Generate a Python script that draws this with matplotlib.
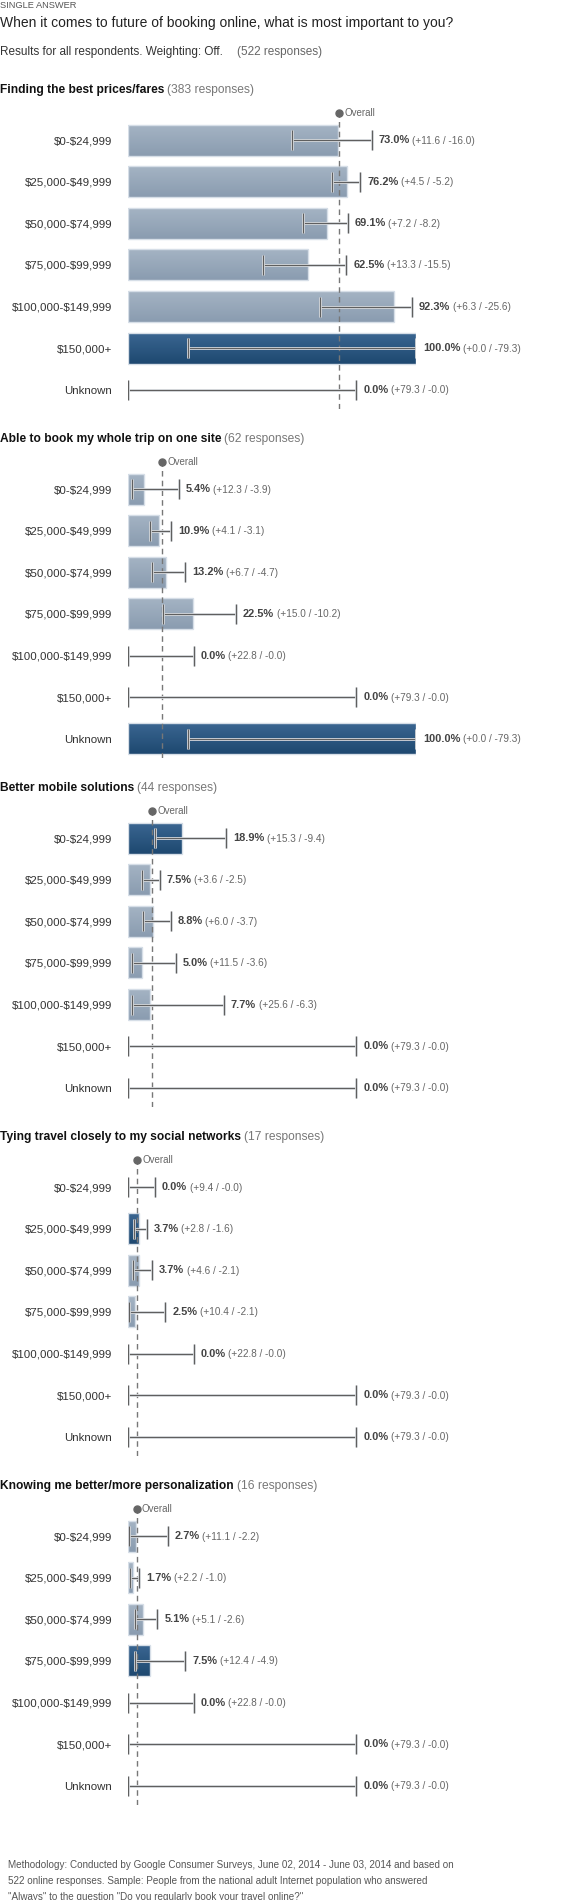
import numpy as np
import matplotlib
matplotlib.use("Agg")
import matplotlib.pyplot as plt
import matplotlib.patheffects as pe
from matplotlib.colors import LinearSegmentedColormap

plt.rcParams["font.family"] = ["Liberation Sans", "DejaVu Sans"]

W, H = 571, 1900
TOTAL = 522

categories = ["$0-$24,999", "$25,000-$49,999", "$50,000-$74,999", "$75,000-$99,999",
              "$100,000-$149,999", "$150,000+", "Unknown"]

titles = ["Finding the best prices/fares",
          "Able to book my whole trip on one site",
          "Better mobile solutions",
          "Tying travel closely to my social networks",
          "Knowing me better/more personalization"]
responses = [383, 62, 44, 17, 16]

values = [
    [73.0, 76.2, 69.1, 62.5, 92.3, 100.0, 0.0],
    [5.4, 10.9, 13.2, 22.5, 0.0, 0.0, 100.0],
    [18.9, 7.5, 8.8, 5.0, 7.7, 0.0, 0.0],
    [0.0, 3.7, 3.7, 2.5, 0.0, 0.0, 0.0],
    [2.7, 1.7, 5.1, 7.5, 0.0, 0.0, 0.0],
]
plus = [
    [11.6, 4.5, 7.2, 13.3, 6.3, 0.0, 79.3],
    [12.3, 4.1, 6.7, 15.0, 22.8, 79.3, 0.0],
    [15.3, 3.6, 6.0, 11.5, 25.6, 79.3, 79.3],
    [9.4, 2.8, 4.6, 10.4, 22.8, 79.3, 79.3],
    [11.1, 2.2, 5.1, 12.4, 22.8, 79.3, 79.3],
]
minus = [
    [16.0, 5.2, 8.2, 15.5, 25.6, 79.3, 0.0],
    [3.9, 3.1, 4.7, 10.2, 0.0, 0.0, 79.3],
    [9.4, 2.5, 3.7, 3.6, 6.3, 0.0, 0.0],
    [0.0, 1.6, 2.1, 2.1, 0.0, 0.0, 0.0],
    [2.2, 1.0, 2.6, 4.9, 0.0, 0.0, 0.0],
]

LIGHT = LinearSegmentedColormap.from_list("light", ["#a5b4c4", "#8a9cb0"])
DARK = LinearSegmentedColormap.from_list("dark", ["#3b6792", "#1e4870"])


def px(n):
    # pixels -> points at dpi 100
    return n * 0.72


def esc(s):
    return s.replace("$", r"\$")


def fy(y):
    return 1 - y / H


def draw_section(fig, s):
    header_y = 90 + 349 * s
    top = header_y + 23
    height = 296
    ax = fig.add_axes([128 / W, fy(top + height), 288 / W, height / H])

    t = fig.text(0, fy(header_y), titles[s], fontsize=px(12), fontweight="bold",
                 color="#111", va="center", ha="left")
    ax.annotate(f"({responses[s]} responses)", xy=(1, 0.5), xycoords=t,
                xytext=(px(3), 0), textcoords="offset points",
                fontsize=px(12), color="#777", va="center", ha="left")

    vals = values[s]
    hi = int(np.argmax(vals))
    n = len(categories)
    bar_h = 0.745
    grad = np.linspace(0, 1, 64).reshape(-1, 1)
    for i in range(n):
        v = vals[i]
        if v <= 0:
            continue
        rect = ax.barh(i, v, height=bar_h, facecolor="none", edgecolor="#d6dee7",
                       linewidth=1, zorder=3)[0]
        im = ax.imshow(grad, cmap=DARK if i == hi else LIGHT, aspect="auto",
                       extent=(0, v, i + bar_h / 2, i - bar_h / 2), zorder=2)
        im.set_clip_path(rect)

    overall = responses[s] / TOTAL * 100
    ax.axvline(overall, color="#777", linestyle=(0, (4, 3)), linewidth=1, zorder=4)
    ax.plot([overall], [-0.65], marker="o", markersize=px(7), color="#666",
            clip_on=False, zorder=5)
    ax.annotate("Overall", xy=(overall, -0.65), xytext=(px(5), 0),
                textcoords="offset points", fontsize=px(9.8), color="#666",
                va="center", ha="left", annotation_clip=False)

    ys = np.arange(n)
    eb = ax.errorbar(vals, ys, xerr=[minus[s], plus[s]], fmt="none", ecolor="#5f5f5f",
                     elinewidth=1, capsize=px(10), capthick=1, zorder=6)
    # light rim so the bar shows the whisker inside it, invisible on white
    halo = [pe.Stroke(linewidth=2.0, foreground="#eef1f5"), pe.Normal()]
    for c in eb.lines[1]:
        c.set_path_effects(halo)
    for c in eb.lines[2]:
        c.set_path_effects(halo)

    for i in range(n):
        hi_x = vals[i] + plus[s][i]
        t1 = ax.annotate(f"{vals[i]:.1f}%", xy=(hi_x, i), xytext=(px(7), 0),
                         textcoords="offset points", fontsize=px(11),
                         fontweight="bold", color="#444", va="center", ha="left",
                         annotation_clip=False)
        ax.annotate(f"(+{plus[s][i]:.1f} / -{minus[s][i]:.1f})", xy=(1, 0.45),
                    xycoords=t1, xytext=(px(2.5), 0), textcoords="offset points",
                    fontsize=px(10), color="#666", va="center", ha="left")

    ax.set_xlim(0, 100)
    ax.set_ylim(6.46, -0.65)
    ax.set_yticks(ys)
    ax.set_yticklabels([esc(c) for c in categories], fontsize=px(11.5), color="#333")
    ax.tick_params(axis="y", length=0, pad=px(16))
    ax.set_xticks([])
    for sp in ax.spines.values():
        sp.set_visible(False)
    ax.patch.set_alpha(0)


def main():
    fig = plt.figure(figsize=(W / 100, H / 100), dpi=100)

    fig.text(0, fy(6), "SINGLE ANSWER", fontsize=px(9.3), color="#555", va="center")
    fig.text(0, fy(23), "When it comes to future of booking online, what is most important to you?",
             fontsize=px(13.9), color="#222", va="center")
    r = fig.text(0, fy(52), "Results for all respondents. Weighting: Off.",
                 fontsize=px(11.7), color="#333", va="center")
    fig.add_artist(matplotlib.text.Annotation(
        "(522 responses)", xy=(1, 0.5), xycoords=r, xytext=(px(14), 0),
        textcoords="offset points", fontsize=px(11.7), color="#666", va="center"))

    for s in range(len(titles)):
        draw_section(fig, s)

    foot = ["Methodology: Conducted by Google Consumer Surveys, June 02, 2014 - June 03, 2014 and based on",
            "522 online responses. Sample: People from the national adult Internet population who answered",
            "\"Always\" to the question \"Do you regularly book your travel online?\""]
    for k, line in enumerate(foot):
        fig.text(8 / W, fy(1865 + 16 * k), line, fontsize=px(9.85), color="#555", va="center")

    fig.savefig("out.png", dpi=100)
    plt.close(fig)


if __name__ == "__main__":
    main()
